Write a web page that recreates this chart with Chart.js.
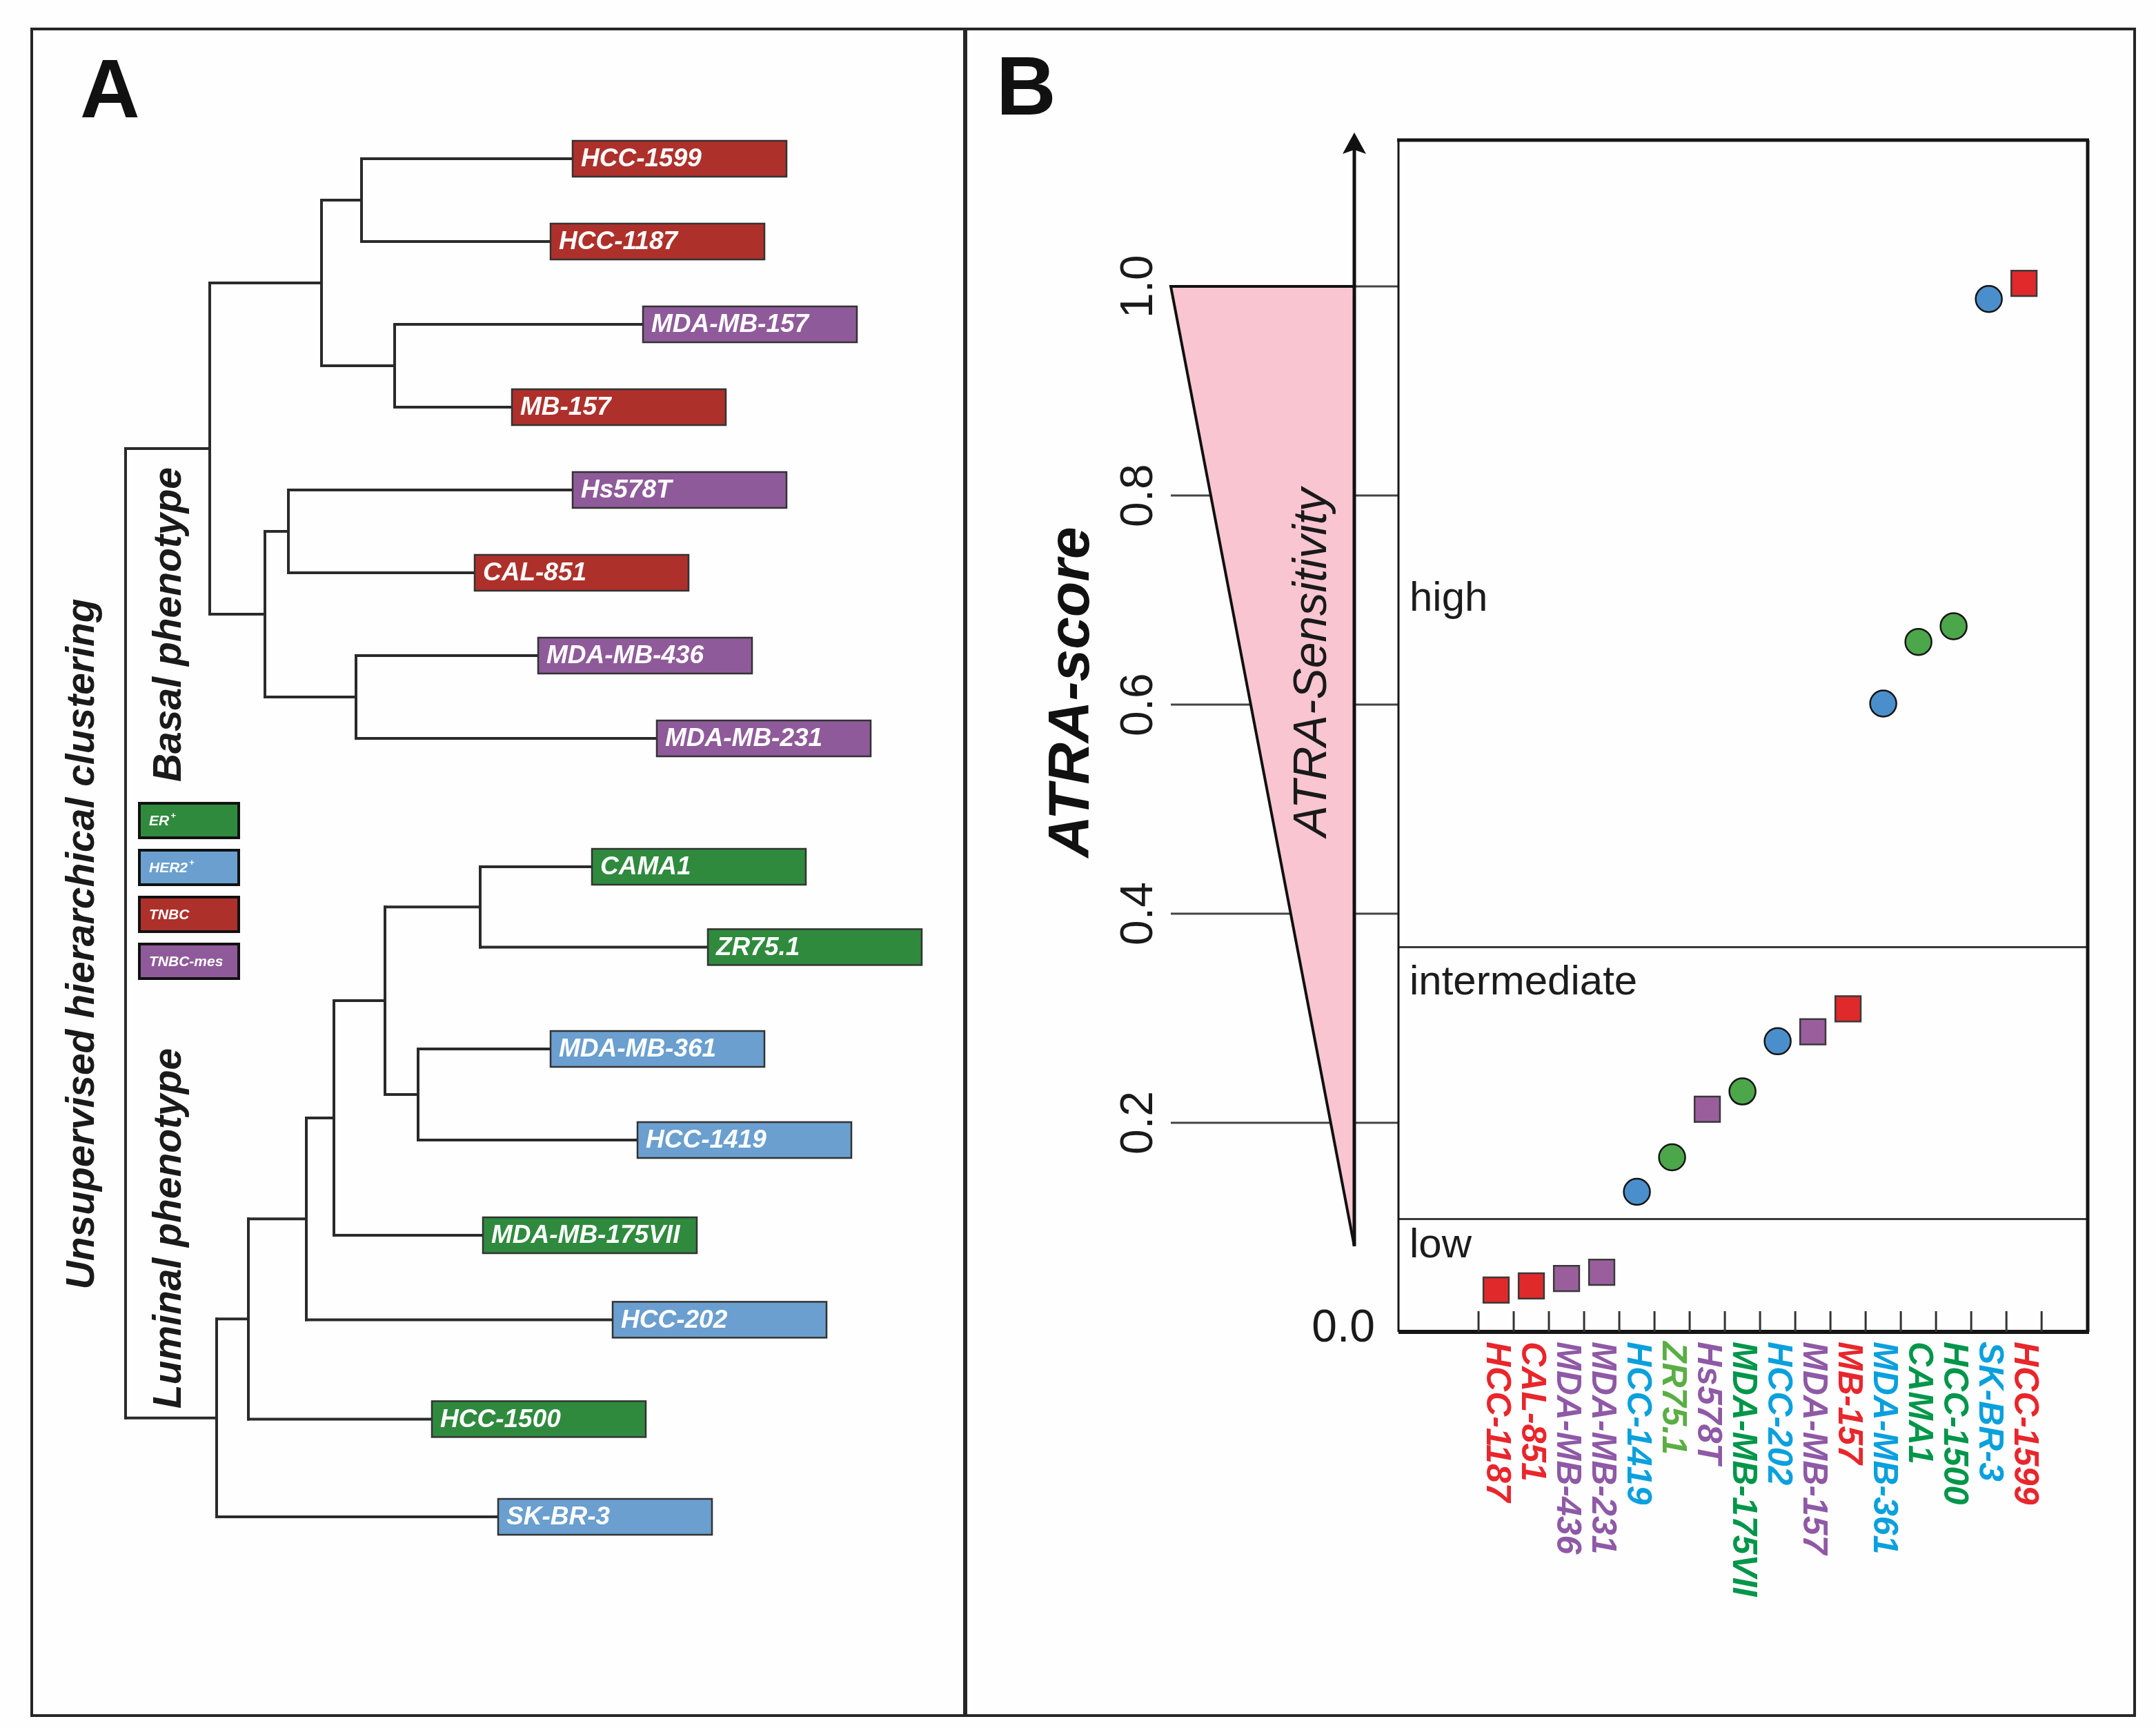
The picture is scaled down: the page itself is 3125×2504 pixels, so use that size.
<!DOCTYPE html>
<html><head><meta charset="utf-8">
<script src="https://cdn.jsdelivr.net/npm/chart.js@4.4.1/dist/chart.umd.min.js"></script>
<style>
html,body{margin:0;padding:0;background:#fff;}
#wrap{position:relative;width:3125px;height:2504px;background:#fefefe;overflow:hidden;}
canvas{position:absolute;left:0;top:0;}
.frame{position:absolute;border:4px solid #262626;box-sizing:border-box;}
</style></head><body>
<div id="wrap">
<div class="frame" style="left:44px;top:40px;width:1358px;height:2448px;"></div>
<div class="frame" style="left:1396px;top:40px;width:1700px;height:2448px;"></div>
<canvas id="cA" width="3125" height="2504"></canvas>
<canvas id="cB" width="3125" height="2504"></canvas>
</div>
<script>
const FONT = '"Liberation Sans", Arial, Helvetica, sans-serif';

// ---------- Panel A: hierarchical clustering ----------
const leafNames = ['HCC-1599','HCC-1187','MDA-MB-157','MB-157','Hs578T','CAL-851','MDA-MB-436','MDA-MB-231','CAMA1','ZR75.1','MDA-MB-361','HCC-1419','MDA-MB-175VII','HCC-202','HCC-1500','SK-BR-3'];
const leafSubtype = ['TNBC','TNBC','TNBC-mes','TNBC','TNBC-mes','TNBC','TNBC-mes','TNBC-mes','ER','ER','HER2','HER2','ER','HER2','ER','HER2'];
const leafRow = [0,1,2,3,4,5,6,7,8.55,9.52,10.75,11.85,13.0,14.02,15.22,16.4];
const leafDistance = [324,308,375,280,324,253,299,385,338,422,308,371,259,353,222,270];
// merges (negative = leaf -(i+1), positive = earlier merge number)
const mergeA = [-1,-3,1,-5,-7,4,3,-9,-11,8,10,11,12,13,7];
const mergeB = [-2,-4,2,-6,-8,5,6,-10,-12,9,-13,-14,-15,-16,14];
const mergeHeight = [171,195,142,118,167,101,61,257,212,188,151,131,89,66,0];
const legendTypes = ['ER','HER2','TNBC','TNBC-mes'];
const legendSup = ['+','+','',''];

// ---------- Panel B: ATRA-score ----------
const cellLines = ['HCC-1187','CAL-851','MDA-MB-436','MDA-MB-231','HCC-1419','ZR75.1','Hs578T','MDA-MB-175VII','HCC-202','MDA-MB-157','MB-157','MDA-MB-361','CAMA1','HCC-1500','SK-BR-3','HCC-1599'];
const atraScore = [0.040,0.044,0.051,0.057,0.134,0.167,0.213,0.230,0.278,0.287,0.309,0.601,0.660,0.675,0.988,1.003];
const cellSubtype = ['TNBC','TNBC','TNBC-mes','TNBC-mes','HER2','ER','TNBC-mes','ER','HER2','TNBC-mes','TNBC','HER2','ER','ER','HER2','TNBC'];
const labelColor = ['#e8262c','#e8262c','#8f59a6','#8f59a6','#0aa0de','#5aae44','#8f59a6','#00964a','#0aa0de','#8f59a6','#e8262c','#0aa0de','#00964a','#00964a','#0aa0de','#e8262c'];
const yTicks = [0,0.2,0.4,0.6,0.8,1.0];
const regionBounds = [0.108,0.368];
const regionNames = ['low','intermediate','high'];
const regionLabelAt = [0.071,0.323,0.69];
const sensitivityRange = [0.082,1.0];

const boxColor = {'ER':'#2f8a3e','HER2':'#6a9fcf','TNBC':'#ae302b','TNBC-mes':'#8f5a9a'};
const markerFill = {'ER':'#4ca64a','HER2':'#4a8fcc','TNBC':'#e0292b','TNBC-mes':'#9a5e9d'};
const markerShape = {'ER':'circle','HER2':'circle','TNBC':'rect','TNBC-mes':'rect'};

function line(ctx,x1,y1,x2,y2){ctx.beginPath();ctx.moveTo(x1,y1);ctx.lineTo(x2,y2);ctx.stroke();}

// build dendrogram segments
const nodeRow = [];
const segs = [];
function childInfo(ref){
  if(ref<0){const i=-ref-1;return {row:leafRow[i],dist:leafDistance[i]};}
  return {row:nodeRow[ref-1],dist:mergeHeight[ref-1]};
}
for(let k=0;k<mergeHeight.length;k++){
  const a=childInfo(mergeA[k]), b=childInfo(mergeB[k]), h=mergeHeight[k];
  nodeRow[k]=(a.row+b.row)/2;
  segs.push([{x:h,y:a.row},{x:a.dist,y:a.row}]);
  segs.push([{x:h,y:b.row},{x:b.dist,y:b.row}]);
  segs.push([{x:h,y:a.row},{x:h,y:b.row}]);
}

const dendroPlugin = {
  id:'dendroDecor',
  afterDatasetsDraw(chart){
    const ctx=chart.ctx, xs=chart.scales.x, ys=chart.scales.y;
    ctx.save();
    // leaf boxes
    leafNames.forEach((n,i)=>{
      const px=xs.getPixelForValue(leafDistance[i]), py=ys.getPixelForValue(leafRow[i]);
      ctx.fillStyle=boxColor[leafSubtype[i]];
      ctx.fillRect(px,py-26,310,52);
      ctx.strokeStyle='#333';ctx.lineWidth=2.5;ctx.strokeRect(px,py-26,310,52);
      ctx.fillStyle='#fff';ctx.font='italic bold 37px '+FONT;ctx.textAlign='left';ctx.textBaseline='middle';
      ctx.fillText(n,px+12,py+1);
    });
    // legend
    legendTypes.forEach((t,k)=>{
      const y0=1164+k*68;
      ctx.fillStyle=boxColor[t];ctx.fillRect(202,y0,144,50);
      ctx.strokeStyle='#111';ctx.lineWidth=4;ctx.strokeRect(202,y0,144,50);
      ctx.fillStyle='#fff';ctx.font='italic bold 21px '+FONT;ctx.textAlign='left';ctx.textBaseline='middle';
      ctx.fillText(t,216,y0+26);
      if(legendSup[k]){const w=ctx.measureText(t).width;ctx.font='italic bold 13px '+FONT;ctx.fillText(legendSup[k],218+w,y0+18);}
    });
    // rotated titles
    ctx.fillStyle='#1a1a1a';ctx.font='italic bold 57px '+FONT;ctx.textAlign='center';ctx.textBaseline='alphabetic';
    [['Unsupervised hierarchical clustering',136,1368],['Basal phenotype',262,905],['Luminal phenotype',262,1780]].forEach(([t,x,y])=>{
      ctx.save();ctx.translate(x,y);ctx.rotate(-Math.PI/2);ctx.fillText(t,0,0);ctx.restore();
    });
    // panel letters
    ctx.font='bold 120px '+FONT;ctx.textAlign='left';ctx.fillStyle='#111';
    ctx.fillText('A',116,170);ctx.fillText('B',1444,166);
    ctx.restore();
  }
};

new Chart(document.getElementById('cA'),{
  type:'scatter',
  data:{datasets:segs.map(d=>({data:d,showLine:true,pointRadius:0,borderColor:'#2a2a2a',borderWidth:4,borderCapStyle:'square',clip:false}))},
  options:{
    responsive:false,animation:false,devicePixelRatio:1,events:[],
    layout:{padding:{left:182,right:1943,top:230,bottom:234}},
    scales:{x:{type:'linear',min:0,max:500,display:false},y:{type:'linear',min:0,max:17,reverse:true,display:false}},
    plugins:{legend:{display:false},tooltip:{enabled:false}}
  },
  plugins:[dendroPlugin]
});

const plotPlugin = {
  id:'atraDecor',
  beforeDatasetsDraw(chart){
    const ctx=chart.ctx, xs=chart.scales.x, ys=chart.scales.y, ca=chart.chartArea;
    ctx.save();
    // region lines
    ctx.strokeStyle='#3a3a3a';ctx.lineWidth=3;
    regionBounds.forEach(v=>{const py=ys.getPixelForValue(v);line(ctx,ca.left,py,ca.right,py);});
    ctx.fillStyle='#1c1c1c';ctx.font='60px '+FONT;ctx.textAlign='left';ctx.textBaseline='alphabetic';
    regionNames.forEach((n,i)=>ctx.fillText(n,ca.left+16,ys.getPixelForValue(regionLabelAt[i])));
    // left tick lines
    const triL=ca.left-330, triR=ca.left-64;
    ctx.strokeStyle='#444';ctx.lineWidth=3;
    yTicks.slice(1).forEach(v=>{const py=ys.getPixelForValue(v);line(ctx,triL,py,ca.left,py);});
    // sensitivity wedge
    const yTop=ys.getPixelForValue(sensitivityRange[1]), yBot=ys.getPixelForValue(sensitivityRange[0]);
    ctx.beginPath();ctx.moveTo(triL,yTop);ctx.lineTo(triR,yTop);ctx.lineTo(triR,yBot);ctx.closePath();
    ctx.fillStyle='#f9c5d1';ctx.fill();ctx.strokeStyle='#111';ctx.lineWidth=4;ctx.lineJoin='miter';ctx.stroke();
    // arrow
    const tipY=ca.top-11;
    ctx.lineWidth=5;line(ctx,triR,yBot,triR,tipY+22);
    ctx.beginPath();ctx.moveTo(triR,tipY);ctx.lineTo(triR-17,tipY+31);ctx.lineTo(triR,tipY+25);ctx.lineTo(triR+17,tipY+31);ctx.closePath();
    ctx.fillStyle='#111';ctx.fill();
    // tick labels
    ctx.fillStyle='#1a1a1a';ctx.font='66px '+FONT;
    yTicks.forEach(v=>{
      const py=ys.getPixelForValue(v);
      if(v===0){ctx.textAlign='right';ctx.textBaseline='middle';ctx.fillText(v.toFixed(1),ca.left-34,py-4);}
      else{ctx.save();ctx.translate(ca.left-357,py);ctx.rotate(-Math.PI/2);ctx.textAlign='center';ctx.textBaseline='alphabetic';ctx.fillText(v.toFixed(1),0,0);ctx.restore();}
    });
    // axis titles
    ctx.save();ctx.translate(ca.left-449,ca.top+800);ctx.rotate(-Math.PI/2);
    ctx.font='italic bold 84px '+FONT;ctx.textAlign='center';ctx.textBaseline='alphabetic';ctx.fillStyle='#111';
    ctx.fillText('ATRA-score',0,0);ctx.restore();
    ctx.save();ctx.translate(ca.left-105,960);ctx.rotate(-Math.PI/2);
    ctx.font='italic 68px '+FONT;ctx.textAlign='center';ctx.textBaseline='alphabetic';ctx.fillStyle='#1a1a1a';
    ctx.fillText('ATRA-Sensitivity',0,0);ctx.restore();
    // plot frame
    ctx.strokeStyle='#151515';
    ctx.lineWidth=3;line(ctx,ca.left,ca.top,ca.left,ca.bottom);
    ctx.lineWidth=5;line(ctx,ca.left-2,ca.top,ca.right+2,ca.top);line(ctx,ca.right,ca.top,ca.right,ca.bottom);
    ctx.lineWidth=6;line(ctx,ca.left,ca.bottom,ca.right+2,ca.bottom);
    // category ticks (inside)
    ctx.strokeStyle='#333';ctx.lineWidth=3;
    for(let i=0;i<=cellLines.length;i++){const px=xs.getPixelForValue(i-0.5);line(ctx,px,ca.bottom,px,ca.bottom-30);}
    // category labels
    ctx.font='italic bold 50px '+FONT;ctx.textAlign='left';ctx.textBaseline='middle';
    cellLines.forEach((c,i)=>{
      ctx.save();ctx.translate(xs.getPixelForValue(i),ca.bottom+14);ctx.rotate(Math.PI/2);
      ctx.fillStyle=labelColor[i];ctx.fillText(c,0,0);ctx.restore();
    });
    ctx.restore();
  }
};

new Chart(document.getElementById('cB'),{
  type:'scatter',
  data:{datasets:[{
    data:cellLines.map((c,i)=>({x:i,y:atraScore[i]})),
    pointStyle:cellSubtype.map(s=>markerShape[s]),
    pointRadius:cellSubtype.map(s=>markerShape[s]==='rect'?26:19),
    backgroundColor:cellSubtype.map(s=>markerFill[s]),
    borderColor:cellSubtype.map(s=>markerShape[s]==='rect'?'#3a3a3a':'#151515'),
    borderWidth:2.5,clip:false
  }]},
  options:{
    responsive:false,animation:false,devicePixelRatio:1,events:[],
    layout:{padding:{left:2027,right:99,top:203,bottom:574}},
    scales:{x:{type:'linear',min:-2.775,max:16.81,display:false},y:{type:'linear',min:0,max:1.14,display:false}},
    plugins:{legend:{display:false},tooltip:{enabled:false}}
  },
  plugins:[plotPlugin]
});
</script>
</body></html>
